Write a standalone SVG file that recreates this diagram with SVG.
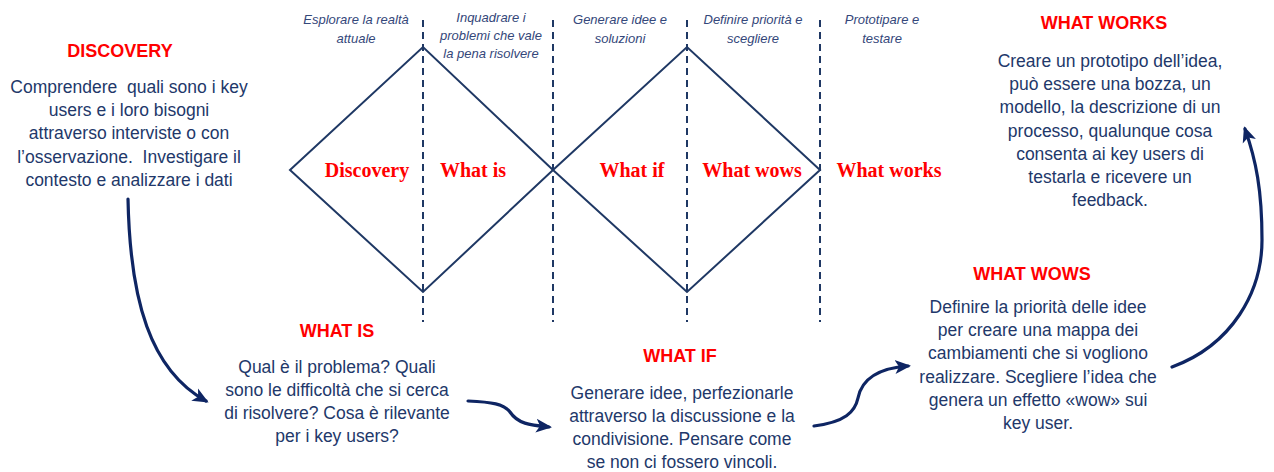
<svg xmlns="http://www.w3.org/2000/svg" width="1274" height="472" viewBox="0 0 1274 472">
<defs>
<marker id="ah" markerUnits="userSpaceOnUse" markerWidth="16" markerHeight="16" viewBox="0 0 16 16" refX="13" refY="8" orient="auto">
<path d="M0,1 L16,8 L0,15 L4,8 Z" fill="#0E2563"/>
</marker>
<style>
.dash{stroke:#1F3864;stroke-width:2;stroke-dasharray:7 5;fill:none}
.dia{stroke:#1F3864;stroke-width:2;fill:none}
.lab{font-family:"Liberation Sans",Arial,sans-serif;font-style:italic;font-size:13px;fill:#34477A;text-anchor:middle}
.red{font-family:"Liberation Serif","Times New Roman",serif;font-weight:bold;font-size:20px;fill:#FF0000;text-anchor:middle}
.head{font-family:"Liberation Sans",Arial,sans-serif;font-weight:bold;font-size:18px;fill:#FF0000;text-anchor:middle}
.body{font-family:"Liberation Sans",Arial,sans-serif;font-size:17.5px;fill:#22386A;text-anchor:middle}
.pre{white-space:pre}
.arr{stroke:#0E2563;stroke-width:3.2;fill:none;stroke-linecap:round;marker-end:url(#ah)}
</style>
</defs>
<rect width="1274" height="472" fill="#FFFFFF"/>

<g id="grid">
<line class="dash" x1="423" y1="20" x2="423" y2="322"/>
<line class="dash" x1="553" y1="20" x2="553" y2="322"/>
<line class="dash" x1="687" y1="20" x2="687" y2="322"/>
<line class="dash" x1="820" y1="20" x2="820" y2="322"/>
</g>

<g id="diamonds">
<polygon class="dia" points="290,170 423,47 553,170 423,292"/>
<polygon class="dia" points="553,170 687,47 820,170 687,292"/>
</g>

<g id="phase-labels">
<text class="lab" x="356" y="24">Esplorare la realtà</text>
<text class="lab" x="356" y="43">attuale</text>
<text class="lab" x="491" y="22">Inquadrare i</text>
<text class="lab" x="491" y="40">problemi che vale</text>
<text class="lab" x="491" y="58">la pena risolvere</text>
<text class="lab" x="620" y="24">Generare idee e</text>
<text class="lab" x="620" y="43">soluzioni</text>
<text class="lab" x="753" y="24">Definire priorità e</text>
<text class="lab" x="753" y="43">scegliere</text>
<text class="lab" x="882" y="24">Prototipare e</text>
<text class="lab" x="882" y="43">testare</text>
</g>

<g id="stage-names">
<text class="red" x="367" y="177">Discovery</text>
<text class="red" x="473" y="177">What is</text>
<text class="red" x="632" y="177">What if</text>
<text class="red" x="752" y="177">What wows</text>
<text class="red" x="889" y="177">What works</text>
</g>

<g id="discovery">
<text class="head" x="120" y="57">DISCOVERY</text>
<text class="body pre" x="129" y="93">Comprendere  quali sono i key</text>
<text class="body" x="129" y="116">users e i loro bisogni</text>
<text class="body" x="129" y="139">attraverso interviste o con</text>
<text class="body pre" x="129" y="163">l’osservazione.  Investigare il</text>
<text class="body" x="129" y="186">contesto e analizzare i dati</text>
</g>

<g id="what-works">
<text class="head" x="1104" y="29">WHAT WORKS</text>
<text class="body" x="1110" y="67">Creare un prototipo dell’idea,</text>
<text class="body" x="1110" y="90">può essere una bozza, un</text>
<text class="body" x="1110" y="113">modello, la descrizione di un</text>
<text class="body" x="1110" y="137">processo, qualunque cosa</text>
<text class="body" x="1110" y="160">consenta ai key users di</text>
<text class="body" x="1110" y="183">testarla e ricevere un</text>
<text class="body" x="1110" y="206">feedback.</text>
</g>

<g id="what-wows">
<text class="head" x="1032" y="280">WHAT WOWS</text>
<text class="body" x="1038" y="313">Definire la priorità delle idee</text>
<text class="body" x="1038" y="336">per creare una mappa dei</text>
<text class="body" x="1038" y="359">cambiamenti che si vogliono</text>
<text class="body" x="1038" y="383">realizzare. Scegliere l’idea che</text>
<text class="body" x="1038" y="406">genera un effetto «wow» sui</text>
<text class="body" x="1038" y="429">key user.</text>
</g>

<g id="what-is">
<text class="head" x="337" y="337">WHAT IS</text>
<text class="body" x="337" y="373">Qual è il problema? Quali</text>
<text class="body" x="337" y="396">sono le difficoltà che si cerca</text>
<text class="body" x="337" y="419">di risolvere? Cosa è rilevante</text>
<text class="body" x="337" y="442">per i key users?</text>
</g>

<g id="what-if">
<text class="head" x="680" y="362">WHAT IF</text>
<text class="body" x="682" y="399">Generare idee, perfezionarle</text>
<text class="body" x="682" y="422">attraverso la discussione e la</text>
<text class="body" x="682" y="445">condivisione. Pensare come</text>
<text class="body" x="682" y="468">se non ci fossero vincoli.</text>
</g>

<g id="connectors">
<path class="arr" d="M128,199 C130,300 150,370 206,401"/>
<path class="arr" d="M468,401 C492,402 504,404 510,412 C518,424 530,425 549,427"/>
<path class="arr" d="M814,426 C845,422 855,412 858,398 C862,378 880,368 908,366"/>
<path class="arr" d="M1172,367 C1232,345 1262,292 1262,240 C1262,190 1256,160 1245,129"/>
</g>
</svg>
